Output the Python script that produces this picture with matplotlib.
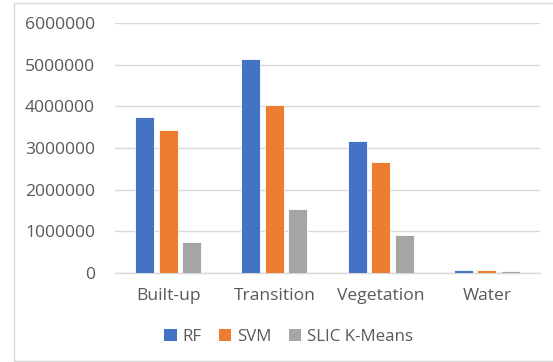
import matplotlib.pyplot as plt
import numpy as np
from matplotlib.patches import Patch, Rectangle

plt.rcParams['font.family'] = ['Open Sans', 'DejaVu Sans']

# Data
categories = ['Built-up', 'Transition', 'Vegetation', 'Water']
series = ['RF', 'SVM', 'SLIC K-Means']
rf = [3750000, 5140000, 3170000, 70000]
svm = [3430000, 4030000, 2670000, 70000]
slic = [730000, 1530000, 900000, 50000]
colors = ['#4472C4', '#ED7D31', '#A5A5A5']
yticks = [0, 1000000, 2000000, 3000000, 4000000, 5000000, 6000000]

W, H = 553, 362
fig = plt.figure(figsize=(W / 100, H / 100), dpi=100)

# light outer frame like the Excel chart area
fig.patches.append(Rectangle((14 / W, 1.5 / H), 1.0, (H - 4.5) / H,
                             transform=fig.transFigure, fill=False,
                             edgecolor='#D9D9D9', linewidth=1.0))

ax = fig.add_axes([115 / W, 1 - 272.7 / H, 425 / W, (272.7 - 23.3) / H])

x = np.arange(len(categories))
step = 0.221
width = 0.18
for i, (vals, c) in enumerate(zip([rf, svm, slic], colors)):
    ax.bar(x + (i - 1) * step, vals, width, color=c, edgecolor='white',
           linewidth=0.6, zorder=3)

ax.set_xlim(-0.5, len(categories) - 0.5)
ax.set_ylim(0, 6000000)
ax.set_yticks(yticks)
ax.set_yticklabels([str(v) for v in yticks])
ax.set_xticks(x)
ax.set_xticklabels(categories)
ax.tick_params(axis='both', length=0, labelsize=12.6, colors='#595959')
ax.tick_params(axis='y', pad=14.4)
ax.tick_params(axis='x', pad=11)
ax.grid(axis='y', color='#D9D9D9', linewidth=1.0, zorder=0)
for s in ['top', 'right', 'left']:
    ax.spines[s].set_visible(False)
ax.spines['bottom'].set_color('#D9D9D9')
ax.spines['bottom'].set_linewidth(1.0)

handles = [Patch(facecolor=c, edgecolor='none') for c in colors]
fig.legend(handles, series, loc='center', bbox_to_anchor=(288.5 / W, 1 - 337 / H),
           ncol=3, frameon=False, fontsize=12.2, labelcolor='#595959',
           handlelength=0.75, handleheight=0.75, handletextpad=0.35,
           columnspacing=1.0)

fig.savefig('out.png', dpi=100)
